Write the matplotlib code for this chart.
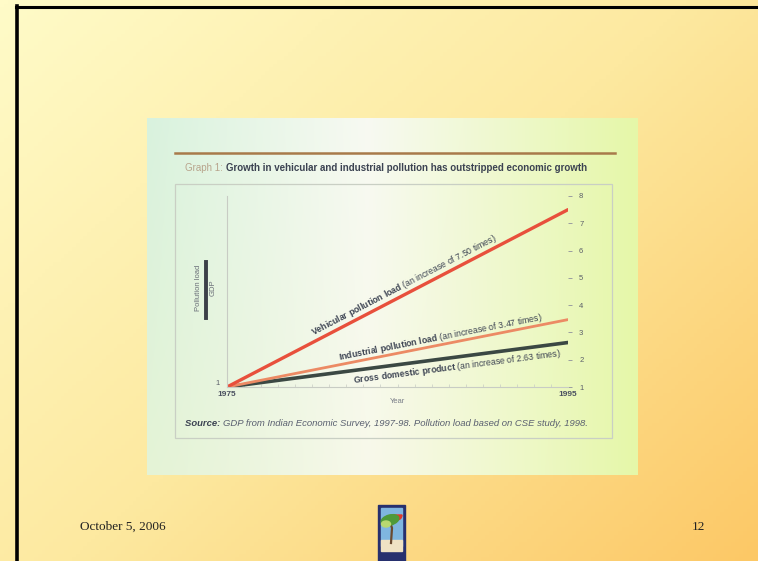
import numpy as np
import matplotlib.pyplot as plt
from matplotlib.patches import Rectangle, Ellipse, Wedge
from matplotlib.colors import LinearSegmentedColormap

plt.rcParams['font.family'] = ['Liberation Sans', 'DejaVu Sans']
plt.rcParams['mathtext.fontset'] = 'custom'
plt.rcParams['mathtext.rm'] = 'Liberation Sans'
plt.rcParams['mathtext.bf'] = 'Liberation Sans:bold'

# data
years = [1975, 1995]
vehicular = [1, 7.50]
industrial = [1, 3.47]
gdp = [1, 2.63]
series_names = ['Vehicular pollution load', 'Industrial pollution load', 'Gross domestic product']
increase_text = ['7.50', '3.47', '2.63']
right_ticks = [1, 2, 3, 4, 5, 6, 7, 8]

W, H = 758, 561
fig = plt.figure(figsize=(W / 100, H / 100), dpi=100)
renderer = fig.canvas.get_renderer()

# slide background
bg = fig.add_axes([0, 0, 1, 1])
bg.set_xlim(0, W)
bg.set_ylim(H, 0)
bg.axis('off')
xx, yy = np.meshgrid(np.linspace(0, 1, 200), np.linspace(0, 1, 150))
slide_cmap = LinearSegmentedColormap.from_list('slide', ['#fffbc8', '#fde9a0', '#fcc866'])
bg.imshow(0.55 * xx + 0.45 * yy, cmap=slide_cmap, extent=(0, W, H, 0), aspect='auto', zorder=0)
bg.plot([16, W], [7, 7], color='black', lw=2.2, zorder=2)
bg.plot([17, 17], [6, H], color='black', lw=2.6, zorder=2)

# photo panel
px0, px1, py0, py1 = 147, 638, 118, 475
gx, gy = np.meshgrid(np.linspace(0, 1, 300), np.linspace(0, 1, 200))
left = np.array([0.85, 0.95, 0.87])
mid = np.array([0.97, 0.98, 0.95])
right = np.array([0.90, 0.97, 0.66])
w = gx[..., None]
rgb = np.where(w < 0.45, left + (mid - left) * (w / 0.45), mid + (right - mid) * ((w - 0.45) / 0.55))
rgb = rgb + (np.array([0.98, 0.96, 0.78]) - rgb) * (0.35 * gy[..., None] * (1 - gx[..., None]))
bg.imshow(np.clip(rgb, 0, 1), extent=(px0, px1, py1, py0), aspect='auto', zorder=1)


def text_run(x, y, parts):
    # place text pieces one after another on a line, in pixel coordinates
    for s, kw in parts:
        t = bg.text(x, y, s, va='center', zorder=4, **kw)
        bb = t.get_window_extent(renderer)
        x += bb.width


# title rule and chart box
bg.plot([175, 615], [153, 153], color='#a87a4a', lw=1.8, zorder=3)
bg.add_patch(Rectangle((175, 184), 437, 254, fill=False, ec='#c9cfc4', lw=0.9, zorder=3))
text_run(185, 168, [('Graph 1: ', dict(color='#b8a48c', fontsize=7.0)),
                    ('Growth in vehicular and industrial pollution has outstripped economic growth',
                     dict(color='#3c4352', fontsize=7.0, fontweight='bold'))])
text_run(185, 423, [('Source: ', dict(color='#3c4352', fontsize=6.8, fontweight='bold', style='italic')),
                    ('GDP from Indian Economic Survey, 1997-98. Pollution load based on CSE study, 1998.',
                     dict(color='#5a6070', fontsize=6.8, style='italic'))])

# left axis label as a fraction
bg.text(198, 288, 'Pollution load', rotation=90, fontsize=5.5, color='#6a6e78', ha='center', va='center', zorder=4)
bg.plot([206, 206], [262, 318], color='#3c4048', lw=2.8, zorder=4)
bg.text(213.5, 288, 'GDP', rotation=90, fontsize=5.5, color='#6a6e78', ha='center', va='center', zorder=4)

# footer
bg.text(80, 527, 'October 5, 2006', family='Liberation Serif', fontsize=9.5, color='#222222', va='center')
bg.text(692, 527, '12', family='Liberation Serif', fontsize=9.5, color='#222222', va='center')
bg.add_patch(Rectangle((378, 505), 27, 56, color='#27306e', zorder=3))
bg.add_patch(Rectangle((381, 508), 21, 38, color='#7fb6e0', zorder=4))
bg.add_patch(Rectangle((381, 540), 21, 11, color='#efe2c4', zorder=4))
bg.add_patch(Wedge((397, 515), 5, 0, 180, color='#e03a2a', zorder=5))
bg.plot([391, 392, 390], [543, 528, 522], color='#6a4a30', lw=1.6, zorder=5)
bg.add_patch(Ellipse((390, 520), 18, 10, angle=-15, color='#4f9a3a', zorder=6))
bg.add_patch(Ellipse((386, 524), 9, 6, color='#b8d870', zorder=6))

# chart axes
ax = fig.add_axes([227 / W, 1 - 387 / H, 341 / W, 191 / H])
ax.patch.set_alpha(0)
ax.set_xlim(years[0], years[1])
ax.set_ylim(1, 8)
for s in ['top', 'right']:
    ax.spines[s].set_visible(False)
ax.spines['left'].set_color('#c8ccc4')
ax.spines['bottom'].set_color('#c8ccc4')
ax.spines['left'].set_linewidth(0.8)
ax.spines['bottom'].set_linewidth(0.8)
ax.yaxis.tick_right()
ax.set_yticks(right_ticks)
ax.set_yticklabels([str(t) for t in right_ticks], fontsize=5.5, color='#5a5e68')
ax.tick_params(axis='y', length=3, width=0.7, color='#9a9ea0', pad=5)
ax.set_xticks(years)
ax.set_xticklabels([str(y) for y in years], fontsize=6, fontweight='bold', color='#4a5060')
ax.set_xticks(np.arange(years[0], years[1] + 1, 1), minor=True)
ax.tick_params(axis='x', which='major', length=0, pad=3)
ax.tick_params(axis='x', which='minor', length=2, width=0.5, color='#c8ccc4', direction='in')
ax.set_xlabel('Year', fontsize=5.5, color='#7a7e88', labelpad=0)
ax.text(-0.02, 1, '1', transform=ax.get_yaxis_transform(), fontsize=5.5, color='#5a5e68',
        ha='right', va='bottom')

ax.plot(years, gdp, color='#3b4843', lw=2.6, solid_capstyle='round')
ax.plot(years, industrial, color='#ec8a64', lw=2.0, solid_capstyle='round')
ax.plot(years, vehicular, color='#e8503c', lw=2.4, solid_capstyle='round')


def line_label(values, at_year, offset, text):
    p0 = ax.transData.transform((years[0], values[0]))
    p1 = ax.transData.transform((years[1], values[1]))
    ang = np.arctan2(p1[1] - p0[1], p1[0] - p0[0])
    frac = (at_year - years[0]) / (years[1] - years[0])
    c = p0 + (p1 - p0) * frac
    n = np.array([-np.sin(ang), np.cos(ang)])
    pos = c + n * offset
    fig.text(pos[0] / W, pos[1] / H, text, rotation=np.degrees(ang), rotation_mode='anchor',
             ha='center', va='center', fontsize=6.3, color='#3c4352')


def label_text(name, inc):
    bold = name.replace(' ', r'\ ')
    return r'$\mathbf{' + bold + '}$' + ' (an increase of ' + inc + ' times)'


line_label(vehicular, 1985.6, 9, label_text(series_names[0], increase_text[0]))
line_label(industrial, 1987.6, 7, label_text(series_names[1], increase_text[1]))
line_label(gdp, 1988.4, -10, label_text(series_names[2], increase_text[2]))

fig.savefig('out.png', dpi=100)
